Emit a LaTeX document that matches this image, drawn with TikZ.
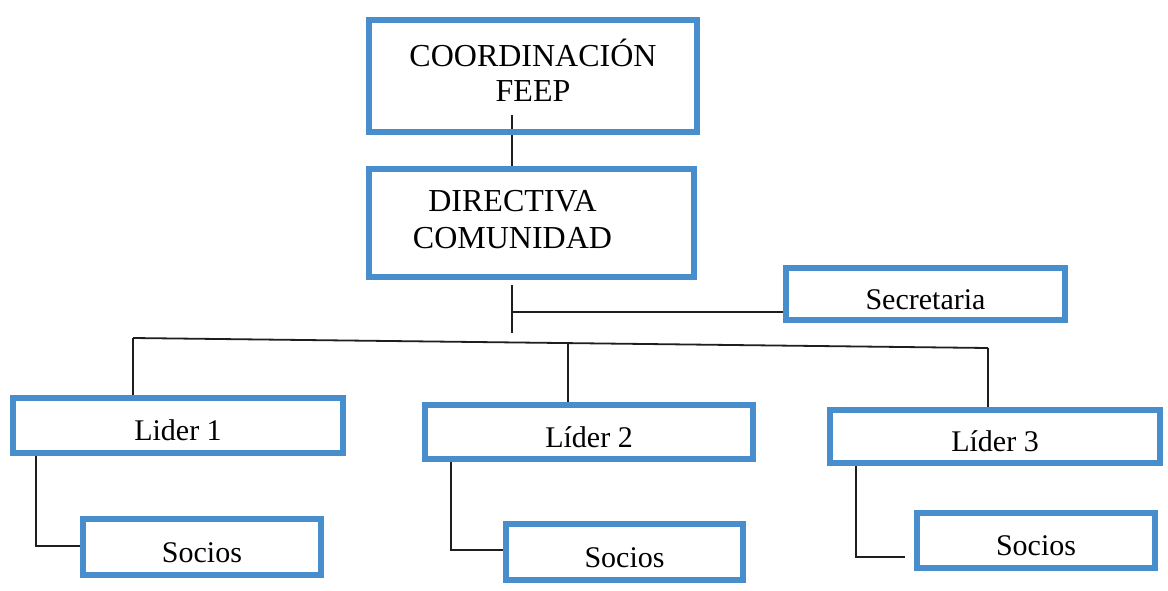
\documentclass[tikz,border=0pt]{standalone}
\usepackage{fontspec}
\setmainfont{Liberation Serif}
\usetikzlibrary{backgrounds}
\definecolor{boxblue}{RGB}{72,142,204}
\definecolor{linegray}{RGB}{30,30,30}
\begin{document}
\begin{tikzpicture}[x=1pt,y=-1pt,
  box/.style={draw=boxblue, line width=5.5pt, inner sep=0pt, outer sep=0pt,
    font=\fontsize{30}{36}\selectfont, text height=30pt, text depth=0pt},
  bigbox/.style={draw=boxblue, line width=5.5pt, inner sep=0pt, outer sep=0pt},
  link/.style={draw=linegray, line width=1.8pt}]
\useasboundingbox (0,0) rectangle (1168,590);

\node[bigbox, minimum width=328pt, minimum height=112pt, font=\fontsize{32}{35}\selectfont] (coord) at (533,76)
  {\begin{tabular}{@{}c@{}}COORDINACIÓN\\FEEP\end{tabular}};
\node[bigbox, minimum width=325pt, minimum height=108pt, font=\fontsize{32}{37}\selectfont] (dir) at (531.5,223)
  {\hspace*{-38pt}\begin{tabular}{@{}c@{}}DIRECTIVA\\COMUNIDAD\end{tabular}};
\node[box, minimum width=279pt, minimum height=52pt] (sec) at (925.5,294) {Secretaria};
\node[box, minimum width=330pt, minimum height=55pt] (L1) at (178,425.5) {Lider 1};
\node[box, minimum width=328pt, minimum height=54pt] (L2) at (589,432) {Líder 2};
\node[box, minimum width=330pt, minimum height=53pt] (L3) at (995,436.5) {Líder 3};
\node[box, minimum width=238pt, minimum height=56pt] (S1) at (202,547) {Socios};
\node[box, minimum width=237pt, minimum height=56pt] (S2) at (624.5,552) {Socios};
\node[box, minimum width=238pt, minimum height=55pt] (S3) at (1036,540.5) {Socios};

\coordinate (tx) at (512,0);
\coordinate (j1) at (512,285);
\coordinate (j2) at (512,333);
\coordinate (sj) at (512,312);
\coordinate (b1) at (133,338);
\coordinate (b2) at (568,343);
\coordinate (b3) at (988,348);
\coordinate (s1x) at (36,546);
\coordinate (s2x) at (451,550);
\coordinate (s3x) at (856,557);

\begin{pgfonlayer}{background}
\fill[white] (0,0) rectangle (1168,590);
\draw[link] ([yshift=17pt]coord.south -| tx) -- (dir.north -| tx);
\draw[link] (j1) -- (j2);
\draw[link] (sj) -- (sj -| sec.west);
\draw[link] (b1) -- (b3);
\draw[link] (b1) -- (b1 |- L1.north);
\draw[link] (b2) -- (b2 |- L2.north);
\draw[link] (b3) -- (b3 |- L3.north);
\draw[link] (s1x |- L1.south) -- (s1x) -- (s1x -| S1.west);
\draw[link] (s2x |- L2.south) -- (s2x) -- (s2x -| S2.west);
\draw[link] (s3x |- L3.south) -- (s3x) -- ([xshift=-12pt]s3x -| S3.west);
\end{pgfonlayer}
\end{tikzpicture}
\end{document}
